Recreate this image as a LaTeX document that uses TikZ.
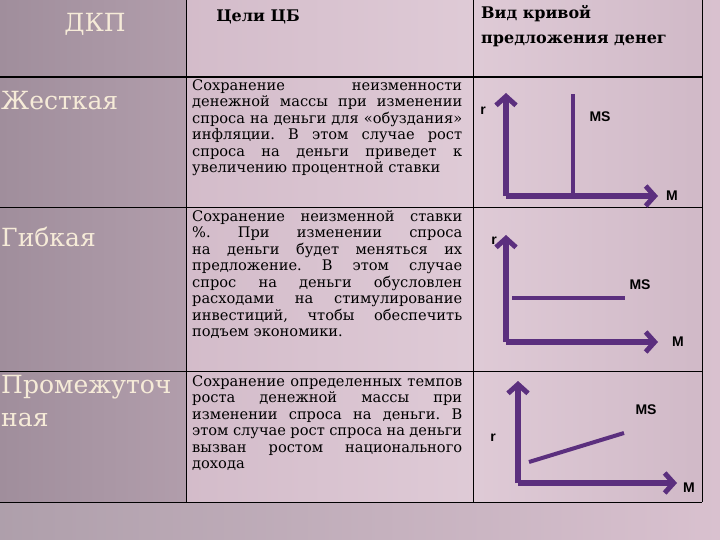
\documentclass[tikz,border=0pt]{standalone}
\usepackage{fontspec}
\setmainfont{DejaVu Serif}
\newfontfamily\lblfont{Liberation Sans}
\usetikzlibrary{arrows.meta}
\frenchspacing
\definecolor{pur}{HTML}{5B2F7E}
\definecolor{leftbg}{HTML}{A08E9C}
\definecolor{cellbg}{HTML}{D9C1CF}
\definecolor{cream}{HTML}{F6EBD8}
\tikzset{
 axis/.style={pur,line width=5.5pt,-{Straight Barb[length=9pt,width=20pt,line width=5pt]}},
 msline/.style={pur,line width=4pt},
 lbl/.style={font=\lblfont\bfseries\fontsize{14}{14}\selectfont},
 kind/.style={anchor=west,text=cream,font=\fontsize{25}{33}\selectfont,align=left,inner sep=1pt},
 goal/.style={anchor=north west,text width=270pt,align=justify,font=\fontsize{14.6}{16.5}\selectfont,inner sep=0pt},
 head/.style={font=\bfseries\fontsize{16}{25}\selectfont,align=left},
}
\begin{document}
\begin{tikzpicture}[x=1pt,y=-1pt]
\useasboundingbox (0,0) rectangle (720,540);
\fill[left color=leftbg!85!white,right color=cellbg] (0,0) rectangle (720,540);
\fill[left color=leftbg,right color=leftbg!70!cellbg] (0,0) rectangle (186,502);
\fill[left color=cellbg!90!leftbg,right color=cellbg!85!white] (186,0) rectangle (473,502);
\fill[left color=cellbg!85!white,right color=cellbg!85!leftbg] (473,0) rectangle (702,502);
\draw[line width=1pt] (0,0) -- (720,0);
\draw[line width=2.5pt] (0,77) -- (702,77);
\draw[line width=1pt] (0,208) -- (702,208) (0,371) -- (702,371) (0,502) -- (702,502);
\draw[line width=1pt] (186,0) -- (186,502) (473,0) -- (473,502) (702,0) -- (702,502);
\node[text=cream,font=\fontsize{25}{28}\selectfont] (h1) at (95,24) {ДКП};
\node[head] (h2) at (258,17) {Цели ЦБ};
\node[head,anchor=north west,inner sep=0pt] (h3) at (481,5) {Вид кривой\\предложения денег};
\node[kind] (k1) at (0,101) {Жесткая};
\node[kind] (k2) at (0,237) {Гибкая};
\node[kind,anchor=north west] (k3) at (0,374) {Промежуточ\\ная};
\node[goal] (g1) at (192,79) {Сохранение неизменности денежной массы при изменении спроса на деньги для «обуздания» инфляции. В этом случае рост спроса на деньги приведет к увеличению процентной ставки};
\node[goal] (g2) at (192,210) {Сохранение неизменной ставки \%. При изменении спроса на деньги будет меняться их предложение. В этом случае спрос на деньги обусловлен расходами на стимулирование инвестиций, чтобы обеспечить подъем экономики.};
\node[goal] (g3) at (192,375) {Сохранение определенных темпов роста денежной массы при изменении спроса на деньги. В этом случае рост спроса на деньги вызван ростом национального дохода};
% graph 1
\coordinate (o1) at (506,196); \coordinate (t1) at (506,93); \coordinate (e1) at (658,196);
\draw[axis] (o1) -- (t1); \draw[axis] (o1) -- (e1);
\coordinate (m1a) at (573,196); \coordinate (m1b) at (573,94);
\draw[msline] (m1a) -- (m1b);
\node[lbl] (r1) at (483,111) {r};
\node[lbl] (ms1) at (600,117) {MS};
\node[lbl] (mm1) at (672,196) {M};
% graph 2
\coordinate (o2) at (506,342); \coordinate (t2) at (506,235); \coordinate (e2) at (658,342);
\draw[axis] (o2) -- (t2); \draw[axis] (o2) -- (e2);
\coordinate (m2a) at (512,298); \coordinate (m2b) at (625,298);
\draw[msline] (m2a) -- (m2b);
\node[lbl] (r2) at (494,241) {r};
\node[lbl] (ms2) at (640,285) {MS};
\node[lbl] (mm2) at (678,342) {M};
% graph 3
\coordinate (o3) at (518,483); \coordinate (t3) at (518,381); \coordinate (e3) at (677,483);
\draw[axis] (o3) -- (t3); \draw[axis] (o3) -- (e3);
\coordinate (m3a) at (529,462); \coordinate (m3b) at (624,433);
\draw[msline] (m3a) -- (m3b);
\node[lbl] (r3) at (493,438) {r};
\node[lbl] (ms3) at (646,410) {MS};
\node[lbl] (mm3) at (689,488) {M};
\end{tikzpicture}
\end{document}
